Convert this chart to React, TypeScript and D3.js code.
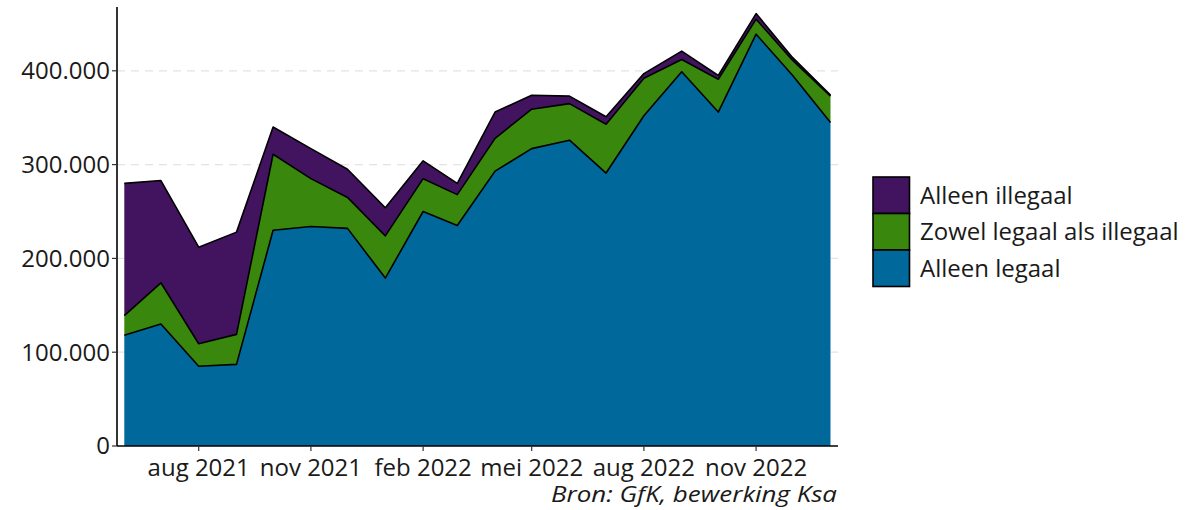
import React from "react";
import * as d3 from "d3";

const months: string[] = [
  "2021-06-01", "2021-07-01", "2021-08-01", "2021-09-01", "2021-10-01",
  "2021-11-01", "2021-12-01", "2022-01-01", "2022-02-01", "2022-03-01",
  "2022-04-01", "2022-05-01", "2022-06-01", "2022-07-01", "2022-08-01",
  "2022-09-01", "2022-10-01", "2022-11-01", "2022-12-01", "2023-01-01",
];
const alleenLegaal: number[] = [118000, 130000, 85000, 87000, 230000, 234000, 232000, 179000, 250000, 235000, 293000, 317000, 326000, 291000, 352000, 399000, 356000, 439000, 395000, 345000];
const zowel: number[] = [21000, 44000, 24000, 32000, 81000, 51000, 33000, 45000, 35000, 33000, 35000, 42000, 39000, 52000, 40000, 13000, 35000, 16000, 16000, 28000];
const alleenIllegaal: number[] = [141000, 109000, 103000, 109000, 29000, 32000, 30000, 30000, 19000, 12000, 28000, 15000, 8000, 8000, 5000, 9000, 4000, 6000, 3000, 1000];

const seriesKeys = ["legaal", "zowel", "illegaal"];
const seriesLabels: Record<string, string> = {
  illegaal: "Alleen illegaal",
  zowel: "Zowel legaal als illegaal",
  legaal: "Alleen legaal",
};
const seriesColors: Record<string, string> = {
  legaal: "#01689B",
  zowel: "#39870C",
  illegaal: "#42145F",
};
const legendOrder = ["illegaal", "zowel", "legaal"];
const yTicks = [0, 100000, 200000, 300000, 400000];
const xTickDates = ["2021-08-01", "2021-11-01", "2022-02-01", "2022-05-01", "2022-08-01", "2022-11-01"];
const xTickLabels = ["aug 2021", "nov 2021", "feb 2022", "mei 2022", "aug 2022", "nov 2022"];
const caption = "Bron: GfK, bewerking Ksa";

const FONT = "'Open Sans', sans-serif";

export default function App() {
  const W = 1199, H = 510;
  const axisLeft = 117, axisRight = 838, axisBottom = 446, axisTop = 7;

  const parse = d3.utcParse("%Y-%m-%d");
  const rows = months.map((m, i) => ({
    date: parse(m) as Date,
    legaal: alleenLegaal[i],
    zowel: zowel[i],
    illegaal: alleenIllegaal[i],
  }));

  const x = d3.scaleUtc()
    .domain([rows[0].date, rows[rows.length - 1].date])
    .range([124.3, 830.5]);
  const y = d3.scaleLinear().domain([0, 468000]).range([axisBottom, axisTop]);

  const stacked = d3.stack<any>().keys(seriesKeys)(rows);

  const area = d3.area<any>()
    .x((d) => x(d.data.date))
    .y0((d) => y(d[0]))
    .y1((d) => y(d[1]))
    .curve(d3.curveLinear);
  const topLine = d3.line<any>()
    .x((d) => x(d.data.date))
    .y((d) => y(d[1]))
    .curve(d3.curveLinear);

  const fmt = (v: number) => d3.format(",")(v).replace(/,/g, ".");

  const legendX = 873, legendY = 177, key = 36.5;

  return (
    <svg width={W} height={H} style={{ position: "absolute", left: 0, top: 0, background: "#fff" }} fontFamily={FONT}>
      {/* grid */}
      {yTicks.filter((t) => t > 0).map((t) => (
        <line key={t} x1={axisLeft} x2={axisRight} y1={y(t)} y2={y(t)} stroke="#e3e3e3" strokeWidth={1.3} strokeDasharray="8,6" />
      ))}
      {/* areas */}
      {stacked.map((s) => (
        <path key={s.key} d={area(s) || ""} fill={seriesColors[s.key]} stroke="none" />
      ))}
      {stacked.map((s) => (
        <path key={s.key + "-l"} d={topLine(s) || ""} fill="none" stroke="#000" strokeWidth={1.6} strokeLinejoin="round" />
      ))}
      {/* axes */}
      <line x1={axisLeft} x2={axisLeft} y1={axisTop} y2={axisBottom} stroke="#000" strokeWidth={1.6} />
      <line x1={axisLeft} x2={axisRight} y1={axisBottom} y2={axisBottom} stroke="#000" strokeWidth={1.6} />
      {yTicks.map((t) => (
        <g key={t}>
          <line x1={axisLeft - 5} x2={axisLeft} y1={y(t)} y2={y(t)} stroke="#333" strokeWidth={1.2} />
          <text x={axisLeft - 7} y={y(t)} dy="0.35em" textAnchor="end" fontSize={24} fill="#1a1a1a">{fmt(t)}</text>
        </g>
      ))}
      {xTickDates.map((d, i) => {
        const px = x(parse(d) as Date);
        return (
          <g key={d}>
            <line x1={px} x2={px} y1={axisBottom} y2={axisBottom + 5} stroke="#333" strokeWidth={1.2} />
            <text x={px} y={axisBottom + 30} textAnchor="middle" fontSize={24} fill="#1a1a1a">{xTickLabels[i]}</text>
          </g>
        );
      })}
      <text x={axisRight - 1} y={502} textAnchor="end" fontSize={22} fontStyle="italic" fill="#1a1a1a"
        textLength={286} lengthAdjust="spacingAndGlyphs">{caption}</text>
      {/* legend */}
      {legendOrder.map((k, i) => (
        <g key={k}>
          <rect x={legendX} y={legendY + i * key} width={key} height={key} fill={seriesColors[k]} stroke="#000" strokeWidth={1.6} />
          <text x={legendX + 47} y={legendY + i * key + key / 2} dy="0.35em" fontSize={24} fill="#1a1a1a">{seriesLabels[k]}</text>
        </g>
      ))}
    </svg>
  );
}
